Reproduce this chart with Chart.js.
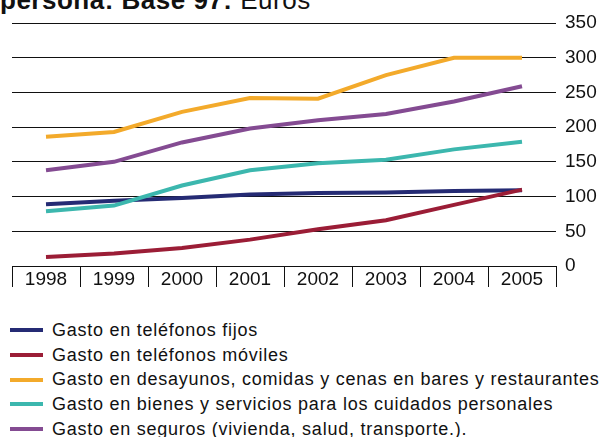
<!DOCTYPE html>
<html>
<head>
<meta charset="utf-8">
<script src="https://cdn.jsdelivr.net/npm/chart.js@4"></script>
<style>
    body { margin: 0; background: #fff; width: 599px; height: 437px; overflow: hidden; position: relative; font-family: "Liberation Sans", Arial, sans-serif; }
    #title { position: absolute; left: 0; top: -12px; font-size: 26px; line-height: 25px; letter-spacing: 0.5px; white-space: nowrap; color: #111; }
    #title b { font-weight: bold; }
    #wrap { position: absolute; left: 0; top: 0; width: 599px; height: 287px; }
    #legend { position: absolute; left: 10px; top: 318px; }
    .item { height: 24.7px; display: flex; align-items: center; white-space: nowrap; }
    .swatch { width: 33px; height: 4px; margin-right: 9px; }
    .label { font-size: 18px; letter-spacing: 0.75px; color: #111; }
</style>
</head>
<body>
<div id="title"><b>persona: Base 97:</b> Euros</div>
<div id="wrap"><canvas id="myChart"></canvas></div>
<div id="legend"></div>
<script>
// Years on the x axis
const years = ['1998', '1999', '2000', '2001', '2002', '2003', '2004', '2005'];

// Series names (legend)
const seriesNames = [
    'Gasto en teléfonos fijos',
    'Gasto en teléfonos móviles',
    'Gasto en desayunos, comidas y cenas en bares y restaurantes',
    'Gasto en bienes y servicios para los cuidados personales',
    'Gasto en seguros (vivienda, salud, transporte.).'
];

// Values (euros)
const fijos = [89, 94, 98, 103, 105, 106, 108, 109];
const moviles = [13, 18, 26, 38, 53, 66, 88, 110];
const restaurantes = [186, 193, 222, 242, 241, 275, 300, 300];
const cuidados = [79, 87, 116, 138, 148, 153, 168, 179];
const seguros = [138, 150, 178, 198, 210, 219, 237, 259];

const yTicks = [0, 50, 100, 150, 200, 250, 300, 350];

const colors = ['#252b74', '#9b1d36', '#f3aa2b', '#3cb7ae', '#844b92'];
const allValues = [fijos, moviles, restaurantes, cuidados, seguros];

const datasets = allValues.map((vals, i) => ({
    label: seriesNames[i],
    data: vals,
    borderColor: colors[i],
    backgroundColor: colors[i],
    borderWidth: 4,
    pointRadius: 0,
    tension: 0,
    order: allValues.length - i // later series drawn on top
}));

// Build the legend in html
const legend = document.getElementById('legend');
seriesNames.forEach((name, i) => {
    const row = document.createElement('div');
    row.className = 'item';
    row.innerHTML = `<span class="swatch" style="background:${colors[i]}"></span><span class="label">${name}</span>`;
    legend.appendChild(row);
});

const tickFont = { size: 19, family: '"Liberation Sans", Arial, sans-serif' };

const config = {
    type: 'line',
    data: { labels: years, datasets },
    options: {
        responsive: true,
        maintainAspectRatio: false,
        animation: false,
        layout: { padding: { top: 23, left: 12, right: 0, bottom: 0 } },
        plugins: { legend: { display: false }, tooltip: { enabled: false } },
        scales: {
            x: {
                offset: true,
                grid: {
                    offset: true,
                    drawOnChartArea: false,
                    drawTicks: true,
                    tickLength: 21,
                    color: '#111',
                    lineWidth: 1
                },
                border: { display: true, color: '#111', width: 1 },
                ticks: {
                    color: '#111',
                    padding: -19,
                    maxRotation: 0,
                    font: tickFont
                },
                afterFit: function (scale) { scale.height = 21; }
            },
            y: {
                position: 'right',
                min: 0,
                max: 350,
                afterBuildTicks: function (scale) { scale.ticks = yTicks.map(v => ({ value: v })); },
                grid: { color: '#111', lineWidth: 1, drawTicks: false },
                border: { display: false },
                ticks: {
                    color: '#111',
                    padding: 9,
                    font: tickFont
                },
                afterFit: function (scale) { scale.width = 43; }
            }
        }
    }
};

window.myChart = new Chart(document.getElementById('myChart'), config);
</script>
</body>
</html>
